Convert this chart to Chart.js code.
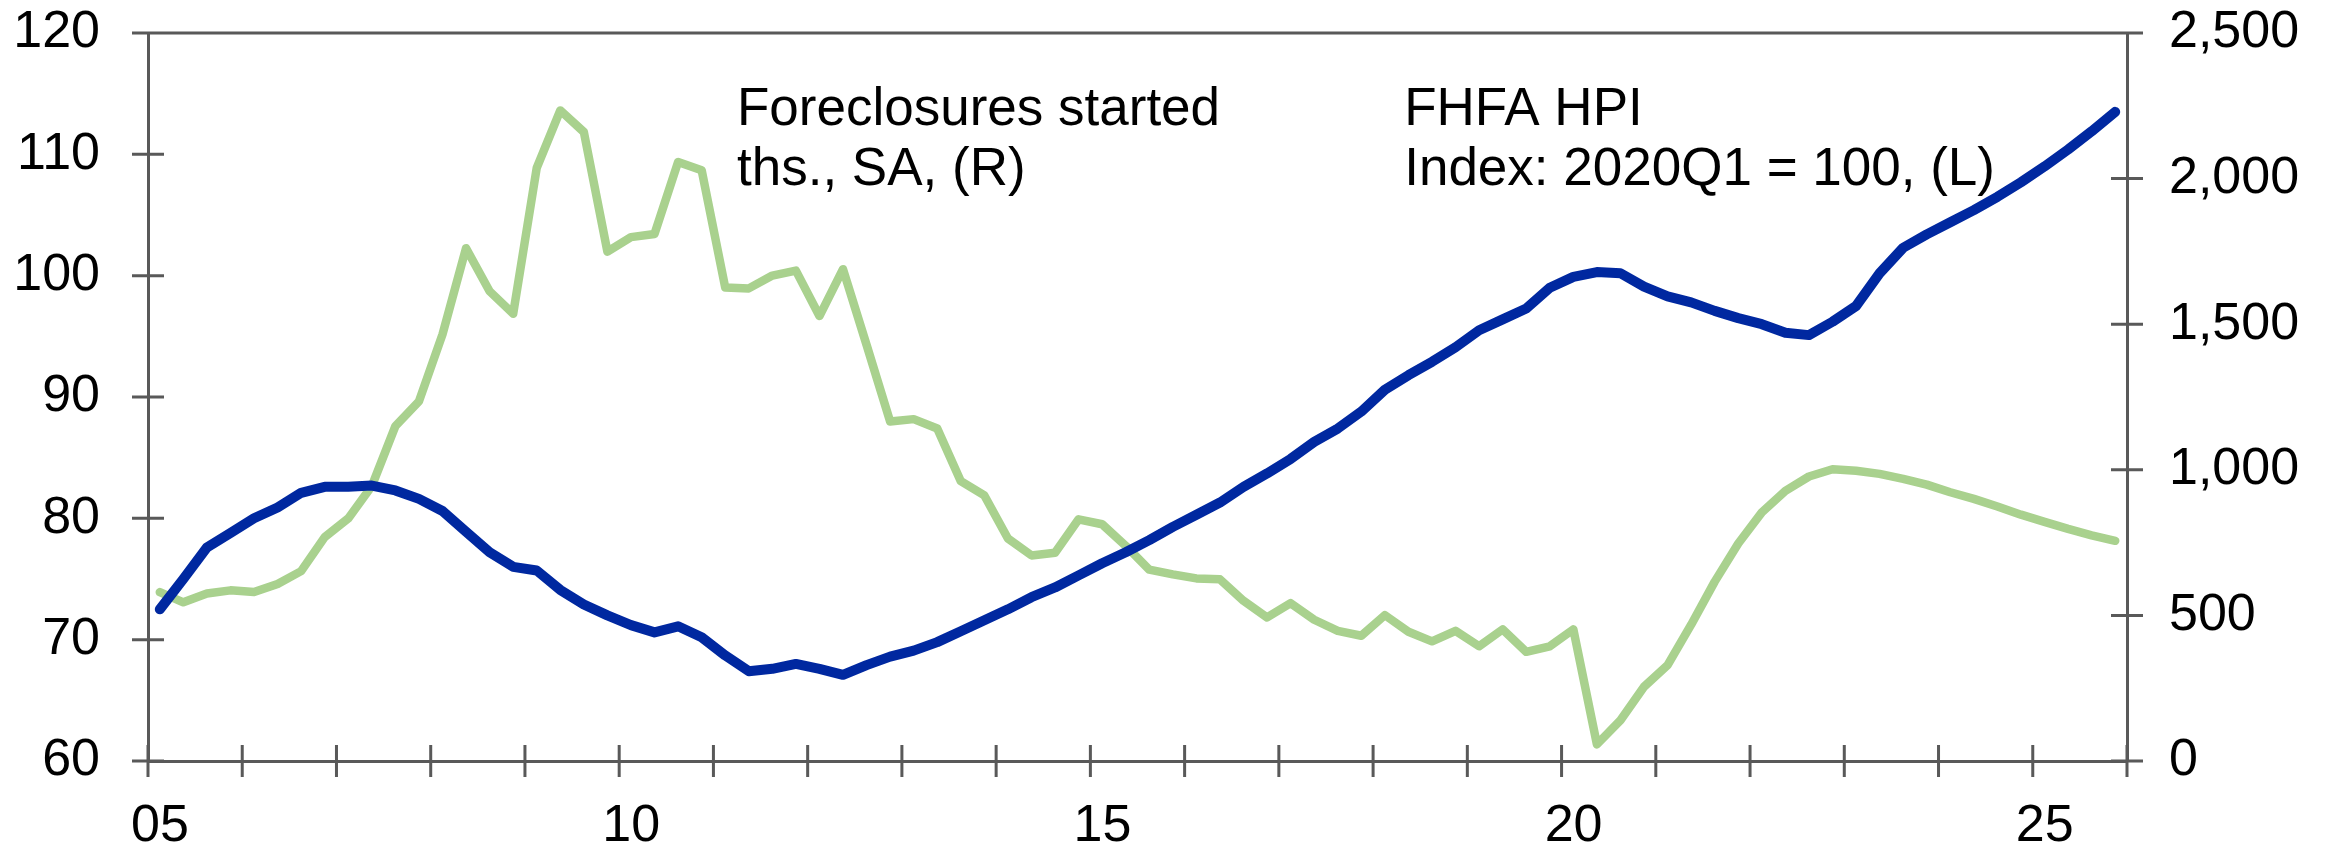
<!DOCTYPE html>
<html>
<head>
<meta charset="utf-8">
<script src="https://cdn.jsdelivr.net/npm/chart.js@4.4.0/dist/chart.umd.min.js"></script>
<style>
html,body{margin:0;padding:0;background:#fff;}
#wrap{width:2336px;height:848px;position:relative;}
</style>
</head>
<body>
<div id="wrap"><canvas id="myChart"></canvas></div>
<script>
// quarterly, 2005Q1 .. 2025Q4
const quarters = []
for (let y = 2005; y <= 2025; y++) for (let q = 1; q <= 4; q++) quarters.push(y + 'Q' + q)

// FHFA HPI, 2020Q1 = 100 (left axis)
const hpi = [
  72.5, 75.0, 77.6, 78.8, 80.0, 80.9, 82.1, 82.6, 82.6, 82.7,
  82.3, 81.6, 80.6, 78.9, 77.2, 76.0, 75.7, 74.1, 72.9, 72.0,
  71.2, 70.6, 71.1, 70.2, 68.7, 67.4, 67.6, 68.0, 67.6, 67.1,
  67.9, 68.6, 69.1, 69.8, 70.7, 71.6, 72.5, 73.5, 74.3, 75.3,
  76.3, 77.2, 78.2, 79.3, 80.3, 81.3, 82.6, 83.7, 84.9, 86.3,
  87.4, 88.8, 90.6, 91.8, 92.9, 94.1, 95.5, 96.4, 97.3, 99.0,
  99.9, 100.3, 100.2, 99.1, 98.3, 97.8, 97.1, 96.5, 96.0, 95.3,
  95.1, 96.2, 97.5, 100.2, 102.3, 103.4, 104.4, 105.4, 106.5, 107.7,
  109.0, 110.4, 111.9, 113.5
]

// Foreclosures started, ths., SA (right axis)
const foreclosures = [
  580, 545, 575, 586, 580, 608, 652, 769, 833, 944,
  1150, 1235, 1465, 1761, 1613, 1536, 2037, 2234, 2160, 1749,
  1799, 1810, 2057, 2029, 1626, 1623, 1667, 1684, 1528, 1689,
  1429, 1166, 1174, 1142, 961, 912, 764, 706, 715, 830,
  813, 739, 657, 641, 627, 624, 550, 493, 542, 485,
  447, 430, 501, 444, 411, 447, 394, 452, 375, 394,
  452, 57, 140, 255, 329, 468, 616, 747, 854, 928,
  977, 1002, 997, 986, 969, 949, 923, 900, 874, 846,
  821, 797, 775, 756
]

const yearLabels = ['05', '10', '15', '20', '25']
const axisColor = '#595959'
const fontFamily = 'Arial, "Liberation Sans", sans-serif'

// place each quarter at the middle of its span on the year axis
function quarterX(s) {
    return Number(s.slice(0, 4)) + (Number(s.slice(5)) - 0.5) / 4
}
function points(values) {
    return values.map((v, i) => ({x: quarterX(quarters[i]), y: v}))
}

// fixed box sizes, no extra label padding in the layout
function fixBox(w, h) {
    return s => {
        if (w) s.width = w
        if (h) s.height = h
        s.paddingTop = 0
        s.paddingBottom = 0
        s.paddingLeft = 0
        s.paddingRight = 0
    }
}

// tick marks that cross the axis lines, plus the top frame line
const crossTicks = {
    id: 'crossTicks',
    afterDraw(chart) {
        const ctx = chart.ctx
        const a = chart.chartArea
        const len = 16
        ctx.save()
        ctx.strokeStyle = axisColor
        ctx.lineWidth = 3
        ctx.beginPath()
        ctx.moveTo(a.left, a.top)
        ctx.lineTo(a.right, a.top)
        const x = chart.scales.x
        x.ticks.forEach(t => {
            const px = x.getPixelForValue(t.value)
            ctx.moveTo(px, a.bottom - len)
            ctx.lineTo(px, a.bottom + len)
        })
        const y = chart.scales.y
        y.ticks.forEach(t => {
            const py = y.getPixelForValue(t.value)
            ctx.moveTo(a.left - len, py)
            ctx.lineTo(a.left + len, py)
        })
        const y1 = chart.scales.y1
        y1.ticks.forEach(t => {
            const py = y1.getPixelForValue(t.value)
            ctx.moveTo(a.right - len, py)
            ctx.lineTo(a.right + len, py)
        })
        ctx.stroke()
        ctx.restore()
    }
}

// series labels inside the plot
const seriesText = {
    id: 'seriesText',
    afterDraw(chart) {
        const ctx = chart.ctx
        const a = chart.chartArea
        const x = chart.scales.x
        ctx.save()
        ctx.fillStyle = '#000'
        ctx.font = '53px ' + fontFamily
        ctx.textAlign = 'left'
        ctx.textBaseline = 'alphabetic'
        const fx = x.getPixelForValue(2011.25)
        ctx.fillText('Foreclosures started', fx, a.top + 92)
        ctx.fillText('ths., SA, (R)', fx, a.top + 152)
        const hx = x.getPixelForValue(2018.33)
        ctx.fillText('FHFA HPI', hx, a.top + 92)
        ctx.fillText('Index: 2020Q1 = 100, (L)', hx, a.top + 152)
        ctx.restore()
    }
}

const data = {
    datasets: [
        {
            label: 'FHFA HPI',
            data: points(hpi),
            yAxisID: 'y',
            borderColor: '#0028A0',
            borderWidth: 10,
            borderCapStyle: 'round',
            borderJoinStyle: 'round',
            pointRadius: 0,
            tension: 0
        },
        {
            label: 'Foreclosures started',
            data: points(foreclosures),
            yAxisID: 'y1',
            borderColor: '#A9D18E',
            borderWidth: 8.5,
            borderCapStyle: 'round',
            borderJoinStyle: 'round',
            pointRadius: 0,
            tension: 0
        }
    ]
}

const tickFont = {family: fontFamily, size: 52}

const config = {
    type: 'line',
    data: data,
    plugins: [crossTicks, seriesText],
    options: {
        responsive: true,
        maintainAspectRatio: false,
        animation: false,
        devicePixelRatio: 1,
        layout: {autoPadding: false, padding: {top: 33, right: 0, bottom: 0, left: 0}},
        plugins: {
            legend: {display: false},
            tooltip: {enabled: false},
            title: {display: false}
        },
        scales: {
            x: {
                type: 'linear',
                min: 2005,
                max: 2026,
                grid: {display: false, drawTicks: false},
                border: {display: true, color: axisColor, width: 3},
                ticks: {
                    stepSize: 1,
                    autoSkip: false,
                    maxRotation: 0,
                    padding: 34,
                    labelOffset: 12,
                    color: '#000',
                    font: tickFont,
                    callback: v => {
                        const s = String(v).slice(2)
                        return yearLabels.includes(s) ? s : ''
                    }
                },
                afterFit: fixBox(0, 87)
            },
            y: {
                position: 'left',
                min: 60,
                max: 120,
                grid: {display: false, drawTicks: false},
                border: {display: true, color: axisColor, width: 3},
                ticks: {stepSize: 10, padding: 48, color: '#000', font: tickFont},
                afterFit: fixBox(148, 0)
            },
            y1: {
                position: 'right',
                min: 0,
                max: 2500,
                grid: {display: false, drawTicks: false},
                border: {display: true, color: axisColor, width: 3},
                ticks: {
                    stepSize: 500,
                    padding: 42,
                    color: '#000',
                    font: tickFont,
                    callback: v => v.toLocaleString('en-US')
                },
                afterFit: fixBox(209, 0)
            }
        }
    }
}

var myChart = new Chart(document.getElementById('myChart'), config)
</script>
</body>
</html>
